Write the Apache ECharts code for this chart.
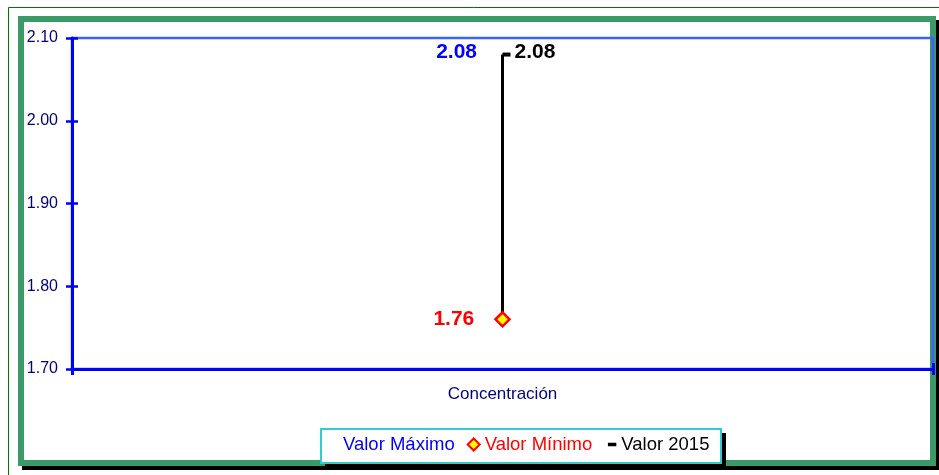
<!DOCTYPE html>
<html>
<head>
<meta charset="utf-8">
<script src="https://cdn.jsdelivr.net/npm/echarts@6/dist/echarts.min.js"></script>
<style>
  html, body { margin: 0; padding: 0; background: #fff; }
  #chart { width: 939px; height: 475px; }
</style>
</head>
<body>
<div id="chart"></div>
<script>
const categories = ['Concentración']
const valorMaximo = [2.08]
const valorMinimo = [1.76]
const valor2015 = [2.08]
const yTicks = { min: 1.7, max: 2.1, interval: 0.1 }

const chart = echarts.init(document.getElementById('chart'))

const axisBlue = '#0000ff'
const navy = '#000080'
const font = 'Liberation Sans, Arial, sans-serif'

chart.setOption({
  backgroundColor: '#fff',
  animation: false,
  graphic: [
    { type: 'line', shape: { x1: 8.5, y1: 7.5, x2: 939, y2: 7.5 }, style: { stroke: '#007700', lineWidth: 1 }, z: -10 },
    { type: 'line', shape: { x1: 8.5, y1: 7.5, x2: 8.5, y2: 475 }, style: { stroke: '#007700', lineWidth: 1 }, z: -10 },
    { type: 'rect', shape: { x: 22, y: 20, width: 917, height: 450 }, style: { fill: '#000' }, z: -10 },
    { type: 'rect', shape: { x: 21, y: 19, width: 912, height: 444 }, style: { fill: '#fff', stroke: '#3a9a68', lineWidth: 6 }, z: -9 },
    // legend box + shadow
    { type: 'rect', shape: { x: 325, y: 433, width: 401, height: 34 }, style: { fill: '#000' }, z: 5 },
    { type: 'rect', shape: { x: 321, y: 429, width: 400, height: 34 }, style: { fill: '#fff', stroke: '#33cccc', lineWidth: 2 }, z: 6 }
  ],
  grid: {
    left: 72, right: 6, top: 38, bottom: 106,
    show: true, borderColor: '#3a63ff', borderWidth: 2.5, backgroundColor: 'transparent'
  },
  legend: {
    left: 326, top: 435,
    padding: 0,
    itemGap: 12,
    itemWidth: 12, itemHeight: 12,
    z: 10,
    textStyle: { fontSize: 18.5, fontFamily: font },
    data: [
      { name: 'Valor Máximo', icon: 'rect', itemStyle: { opacity: 0 }, textStyle: { color: '#0000ff' } },
      { name: 'Valor Mínimo', icon: 'diamond', textStyle: { color: '#ff0000' } },
      { name: 'Valor 2015', icon: 'path://M0,0h0.05v0.05h-0.05z M0,9.95h0.05v0.05h-0.05z M3,3.5h7v3h-7z', textStyle: { color: '#000' } }
    ]
  },
  xAxis: [
    {
      type: 'category', data: categories, boundaryGap: true,
      axisLine: { lineStyle: { color: axisBlue, width: 3 } },
      axisTick: { show: true, length: 6, lineStyle: { color: axisBlue, width: 3 } },
      axisLabel: { color: navy, fontSize: 17, fontFamily: font, margin: 17 }
    },
    {
      type: 'category', data: categories, boundaryGap: true, position: 'bottom',
      axisLine: { show: false },
      axisTick: { show: true, inside: true, length: 6, lineStyle: { color: axisBlue, width: 3 } },
      axisLabel: { show: false }
    }
  ],
  yAxis: [
    {
      type: 'value', min: yTicks.min, max: yTicks.max, interval: yTicks.interval,
      splitLine: { show: false },
      axisLine: { show: true, lineStyle: { color: axisBlue, width: 3 } },
      axisTick: { show: true, length: 6, lineStyle: { color: axisBlue, width: 2.5 } },
      axisLabel: { color: navy, fontSize: 16, fontFamily: font, margin: 14, formatter: v => v.toFixed(2) }
    },
    {
      type: 'value', min: yTicks.min, max: yTicks.max, interval: yTicks.interval, position: 'left',
      splitLine: { show: false },
      axisLine: { show: false },
      axisTick: { show: true, inside: true, length: 6, lineStyle: { color: axisBlue, width: 2.5 } },
      axisLabel: { show: false }
    }
  ],
  series: [
    {
      type: 'custom',
      name: 'hilo',
      z: 1,
      data: categories.map((c, i) => [i, valorMinimo[i], valorMaximo[i]]),
      renderItem: (params, api) => {
        const p1 = api.coord([api.value(0), api.value(1)])
        const p2 = api.coord([api.value(0), api.value(2)])
        return { type: 'line', shape: { x1: p1[0], y1: p1[1], x2: p2[0], y2: p2[1] }, style: { stroke: '#000', lineWidth: 3 } }
      }
    },
    {
      type: 'scatter', name: 'Valor Máximo', data: valorMaximo, symbol: 'circle', symbolSize: 1, z: 3,
      itemStyle: { color: 'rgba(0,0,0,0)', opacity: 1 },
      label: { show: true, position: 'left', distance: 25, color: '#0000ff', fontWeight: 'bold', fontSize: 21, fontFamily: font, offset: [0, -2], formatter: p => p.value.toFixed(2) }
    },
    {
      type: 'scatter', name: 'Valor Mínimo', data: valorMinimo, symbol: 'diamond', symbolSize: 14, z: 4,
      itemStyle: { color: '#ffff00', borderColor: '#ff0000', borderWidth: 2.5, opacity: 1 },
      label: { show: true, position: 'left', distance: 20, color: '#ff0000', fontWeight: 'bold', fontSize: 21, fontFamily: font, formatter: p => p.value.toFixed(2) }
    },
    {
      type: 'scatter', name: 'Valor 2015', data: valor2015, symbol: 'rect', symbolSize: [8, 4], symbolOffset: [4, 0], z: 4,
      itemStyle: { color: '#000', opacity: 1 },
      label: { show: true, position: 'right', distance: 8, color: '#000', fontWeight: 'bold', fontSize: 21, fontFamily: font, offset: [-4, -2], formatter: p => p.value.toFixed(2) }
    }
  ]
})
</script>
</body>
</html>
